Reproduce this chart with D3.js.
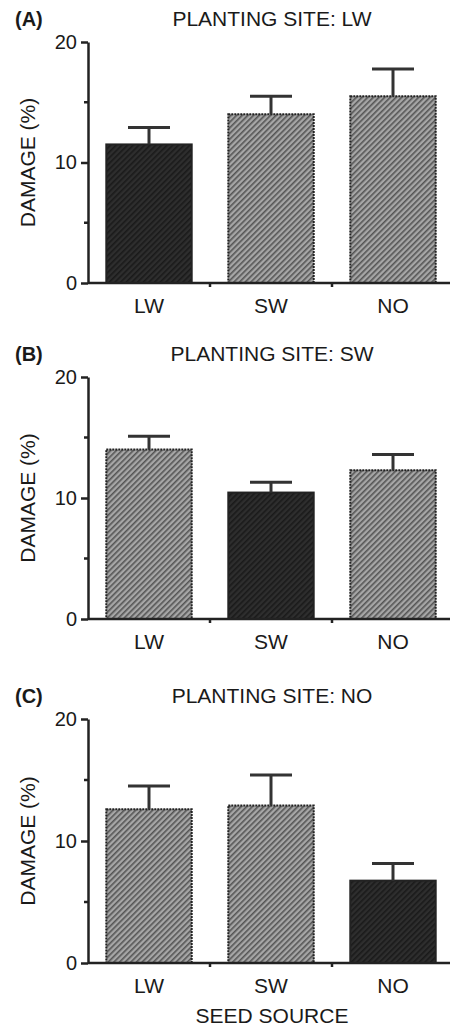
<!DOCTYPE html>
<html>
<head>
    <meta charset="utf-8">
    <title>Seed source damage</title>
    <style>
        body { margin: 0; background: #fff; }
        text { font-family: "Liberation Sans", Arial, sans-serif; fill: #1a1a1a; }
        .axis path, .axis line { stroke: #222; }
    </style>
</head>
<body>
<script src="https://cdnjs.cloudflare.com/ajax/libs/d3/7.8.5/d3.min.js"></script>
<script>
    // Data
    const seedSources = ["LW", "SW", "NO"];
    const plantingSites = ["LW", "SW", "NO"];
    const panelLetters = ["(A)", "(B)", "(C)"];
    const yTicks = [0, 10, 20];
    const yMinorTicks = [5, 15];

    const damageLW = [11.5, 14.0, 15.5];
    const errorLW = [1.4, 1.5, 2.25];
    const damageSW = [14.0, 10.45, 12.3];
    const errorSW = [1.1, 0.85, 1.3];
    const damageNO = [12.6, 12.9, 6.75];
    const errorNO = [1.9, 2.5, 1.4];

    const panels = [
        {letter: panelLetters[0], site: plantingSites[0], values: damageLW, errors: errorLW, top: 42, bottom: 283},
        {letter: panelLetters[1], site: plantingSites[1], values: damageSW, errors: errorSW, top: 377, bottom: 619},
        {letter: panelLetters[2], site: plantingSites[2], values: damageNO, errors: errorNO, top: 719, bottom: 963}
    ];

    const width = 450, height = 1029;
    const axisX = 88;
    const fs = 21; // most text in the figure

    const svg = d3.select("body").append("svg")
        .attr("width", width)
        .attr("height", height);

    // Hatch patterns: light grey bars and dark bars (home site)
    const defs = svg.append("defs");
    function hatch(id, bg, line) {
        const p = defs.append("pattern")
            .attr("id", id)
            .attr("patternUnits", "userSpaceOnUse")
            .attr("width", 4).attr("height", 4)
            .attr("patternTransform", "rotate(-45)");
        p.append("rect").attr("width", 4).attr("height", 4).attr("fill", bg);
        p.append("rect").attr("width", 4).attr("height", 1.6).attr("fill", line);
    }
    hatch("hatchLight", "#a6a6a6", "#555");
    hatch("hatchDark", "#2e2e2e", "#1a1a1a");

    const x = d3.scaleBand()
        .domain(seedSources)
        .range([axisX, 454])
        .paddingInner(0.3)
        .paddingOuter(0.15);

    panels.forEach((p, i) => {
        const g = svg.append("g");
        const y = d3.scaleLinear().domain([0, 20]).range([p.bottom, p.top]);

        // Panel letter and title
        g.append("text")
            .attr("x", 15).attr("y", p.top - 16)
            .attr("font-size", 20).attr("font-weight", "bold")
            .text(p.letter);
        g.append("text")
            .attr("x", 272).attr("y", p.top - 16)
            .attr("text-anchor", "middle")
            .attr("font-size", fs)
            .text("PLANTING SITE: " + p.site);

        // Y axis label
        g.append("text")
            .attr("transform", `translate(35,${(p.top + p.bottom) / 2}) rotate(-90)`)
            .attr("text-anchor", "middle")
            .attr("font-size", fs)
            .text("DAMAGE (%)");

        // Bars
        g.selectAll("rect.bar")
            .data(p.values)
            .join("rect")
            .attr("class", "bar")
            .attr("x", (d, j) => x(seedSources[j]))
            .attr("y", d => y(d))
            .attr("width", x.bandwidth())
            .attr("height", d => y(0) - y(d))
            .attr("fill", (d, j) => j === i ? "url(#hatchDark)" : "url(#hatchLight)")
            .attr("stroke", "#222")
            .attr("stroke-width", 2)
            .attr("stroke-dasharray", (d, j) => j === i ? null : "2,1");

        // Upper error bars
        const err = g.selectAll("g.err")
            .data(p.values)
            .join("g")
            .attr("class", "err");
        err.append("line")
            .attr("x1", (d, j) => x(seedSources[j]) + x.bandwidth() / 2)
            .attr("x2", (d, j) => x(seedSources[j]) + x.bandwidth() / 2)
            .attr("y1", d => y(d))
            .attr("y2", (d, j) => y(d + p.errors[j]))
            .attr("stroke", "#333").attr("stroke-width", 3);
        err.append("line")
            .attr("x1", (d, j) => x(seedSources[j]) + x.bandwidth() / 2 - 21)
            .attr("x2", (d, j) => x(seedSources[j]) + x.bandwidth() / 2 + 21)
            .attr("y1", (d, j) => y(d + p.errors[j]))
            .attr("y2", (d, j) => y(d + p.errors[j]))
            .attr("stroke", "#333").attr("stroke-width", 3);

        // Y axis with minor ticks
        const yAxis = g.append("g")
            .attr("class", "axis")
            .attr("transform", `translate(${axisX},0)`)
            .call(d3.axisLeft(y).tickValues(yTicks).tickSize(7).tickSizeOuter(0).tickPadding(4));
        yAxis.select(".domain").attr("stroke-width", 2.5);
        yAxis.selectAll(".tick line").attr("stroke-width", 2.5);
        yAxis.selectAll(".tick text").attr("font-size", 20).attr("fill", "#1a1a1a");
        yAxis.selectAll("line.minor")
            .data(yMinorTicks)
            .join("line")
            .attr("class", "minor")
            .attr("x1", -4).attr("x2", 0)
            .attr("y1", d => y(d)).attr("y2", d => y(d))
            .attr("stroke", "#222").attr("stroke-width", 2.5);

        // X axis: baseline with small ticks between categories
        const xg = g.append("g").attr("class", "axis");
        xg.append("line")
            .attr("x1", axisX).attr("x2", 450)
            .attr("y1", y(0)).attr("y2", y(0))
            .attr("stroke-width", 2.5);
        xg.selectAll("line.sep")
            .data(seedSources.slice(1))
            .join("line")
            .attr("class", "sep")
            .attr("x1", d => x(d) - x.step() * x.paddingInner() / 2)
            .attr("x2", d => x(d) - x.step() * x.paddingInner() / 2)
            .attr("y1", y(0)).attr("y2", y(0) + 4)
            .attr("stroke-width", 2.5);
        xg.selectAll("text")
            .data(seedSources)
            .join("text")
            .attr("x", d => x(d) + x.bandwidth() / 2)
            .attr("y", y(0) + 30)
            .attr("text-anchor", "middle")
            .attr("font-size", fs)
            .text(d => d);
    });

    // Shared x axis title
    svg.append("text")
        .attr("x", 272).attr("y", 1023)
        .attr("text-anchor", "middle")
        .attr("font-size", fs)
        .text("SEED SOURCE");
</script>
</body>
</html>
